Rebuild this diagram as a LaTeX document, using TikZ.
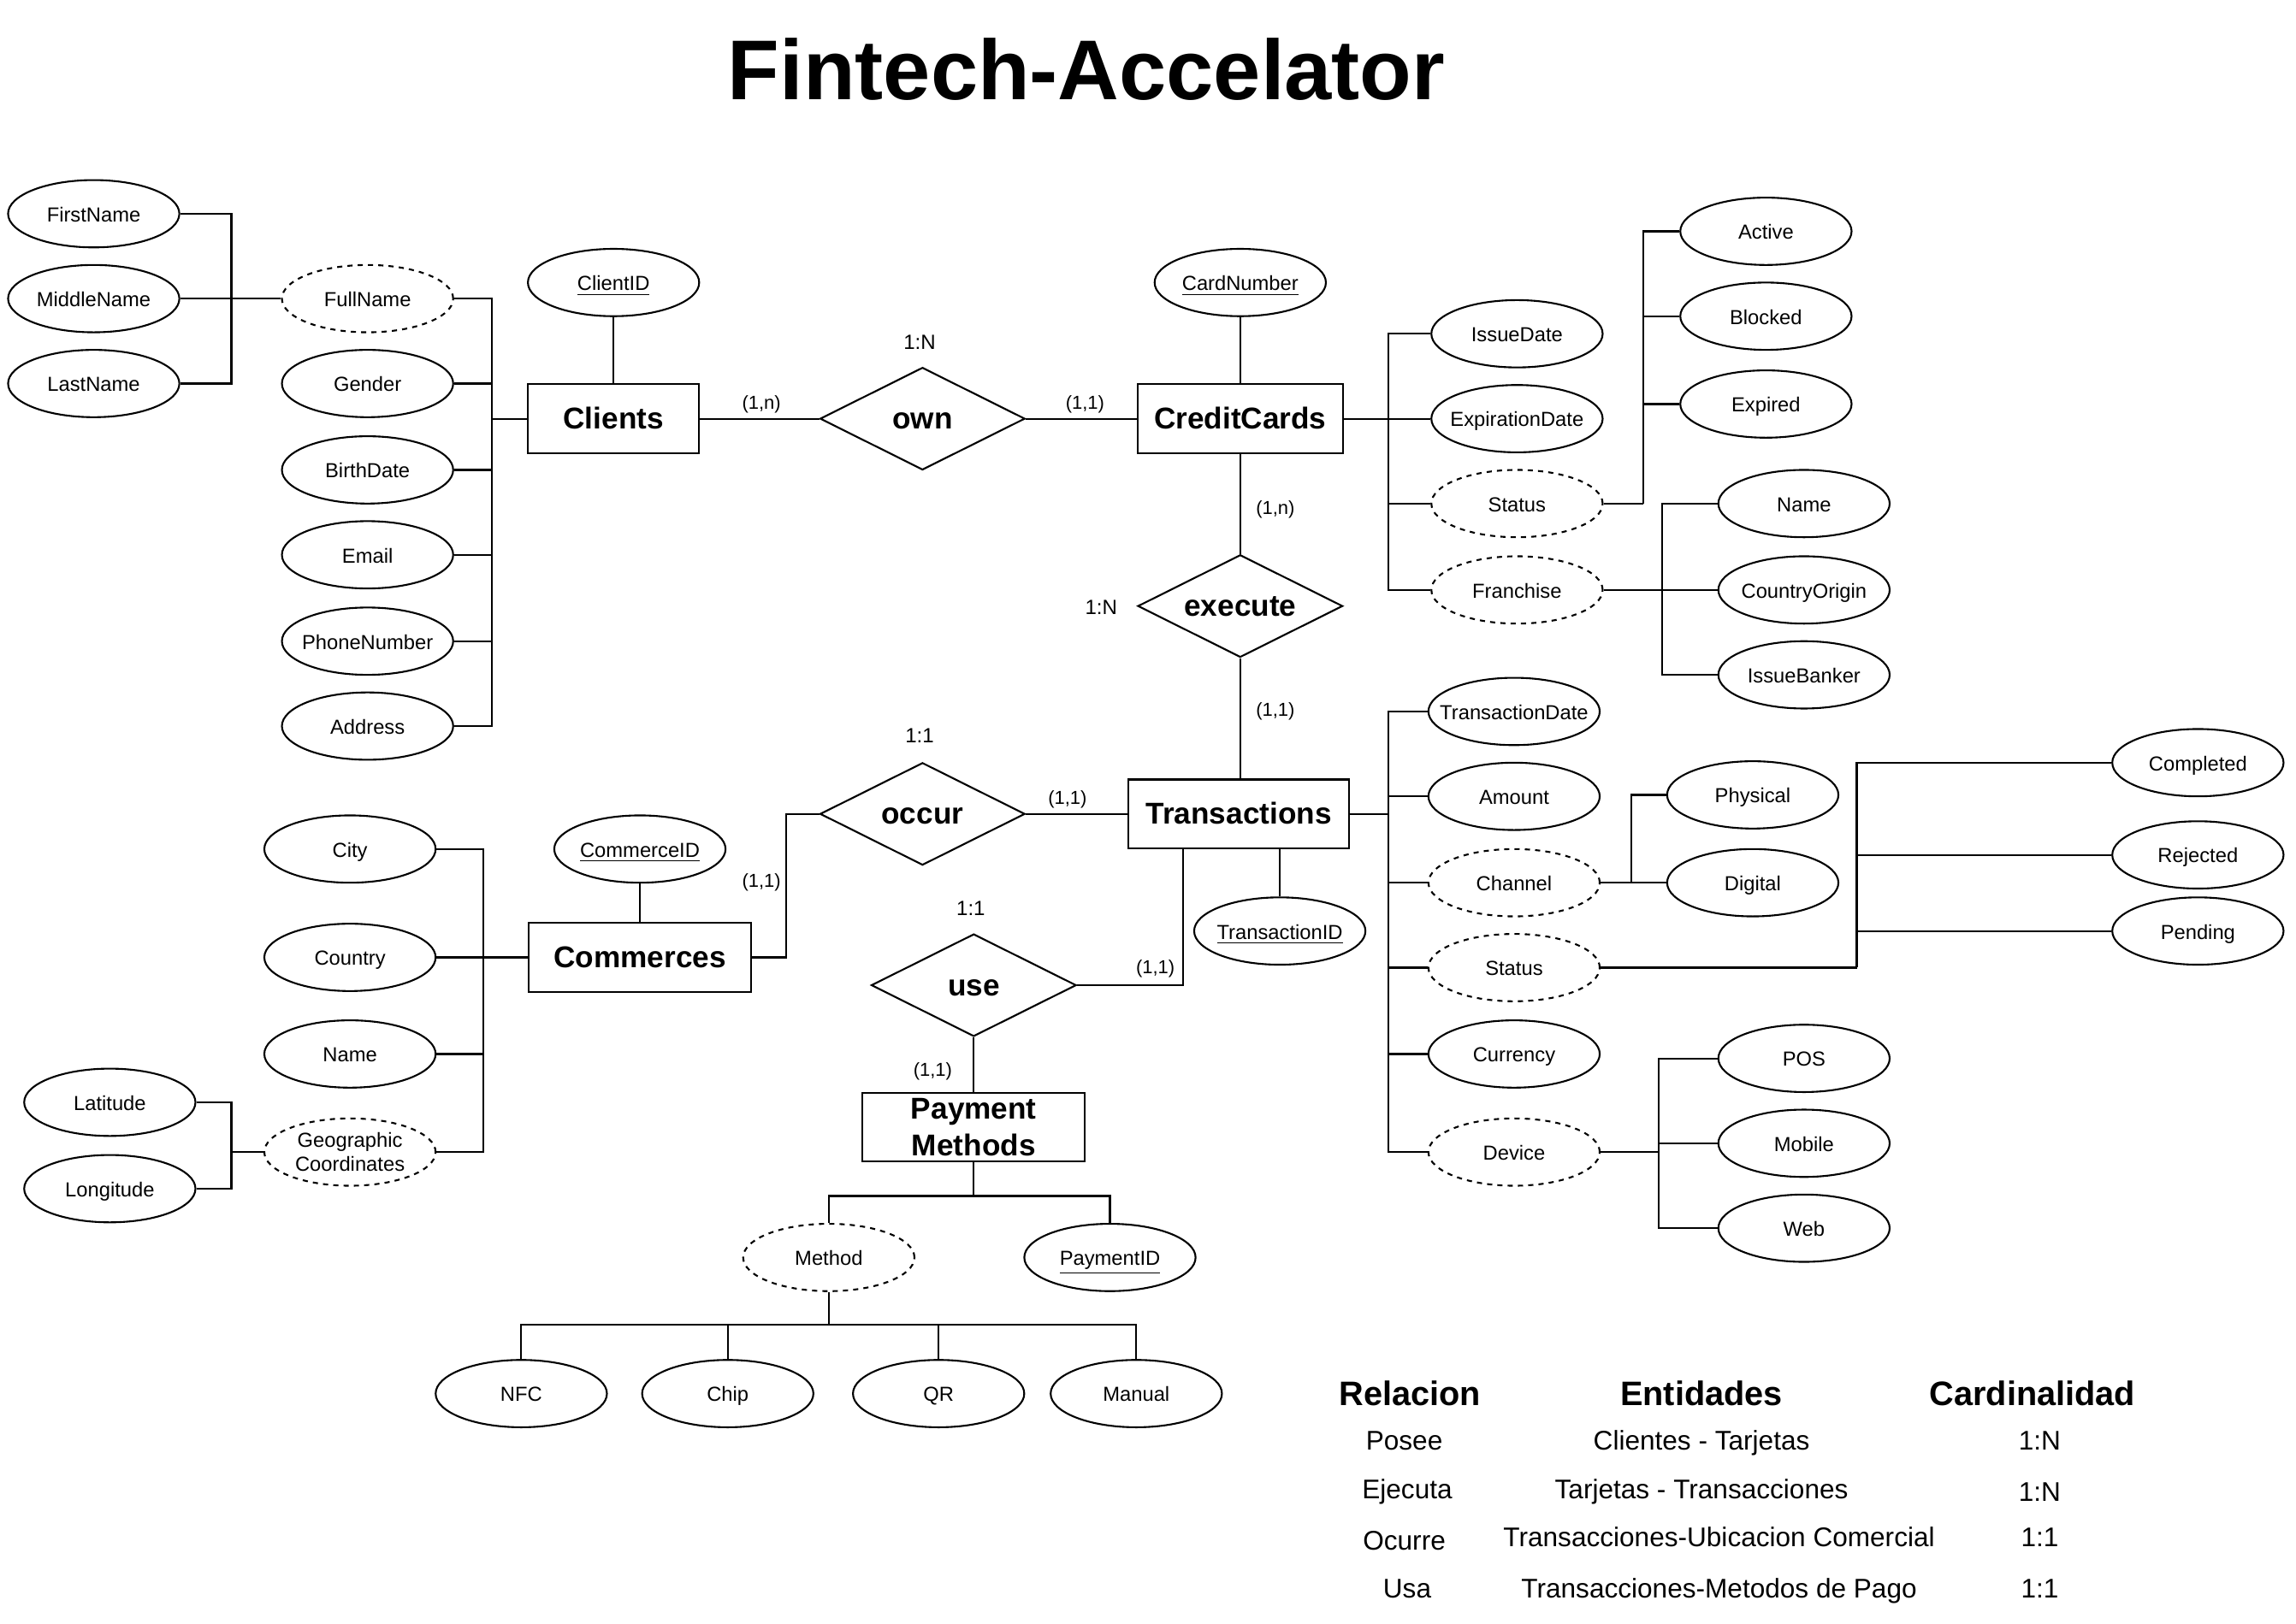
\documentclass[tikz,border=0pt]{standalone}
\usepackage{fontspec}
\setmainfont{Liberation Sans}
\usetikzlibrary{shapes.geometric}
\begin{document}
\begin{tikzpicture}[x=0.02cm,y=-0.02cm,line width=0.7pt,
  attr/.style={ellipse,draw,minimum width=2.34cm,minimum height=0.92cm,inner xsep=-8pt,inner ysep=0pt,text height=7.9pt,text depth=1.7pt,font=\fontsize{7.9}{9.5}\selectfont},
  mattr/.style={attr,dash pattern=on 2pt off 2pt},
  gattr/.style={ellipse,draw,dash pattern=on 2pt off 2pt,minimum width=2.34cm,minimum height=0.92cm,inner xsep=-8pt,inner ysep=-1.5pt,align=center,font=\fontsize{7.9}{9.5}\selectfont},
  entity/.style={rectangle,draw,minimum height=0.94cm,inner sep=0pt,text height=10.6pt,text depth=2.5pt,font=\fontsize{11.7}{14.2}\selectfont\bfseries},
  pmentity/.style={rectangle,draw,minimum height=0.94cm,inner sep=0pt,align=center,font=\fontsize{11.7}{14.2}\selectfont\bfseries},
  rel/.style={diamond,draw,minimum width=2.8cm,minimum height=1.4cm,inner sep=0pt,aspect=2,text height=10.6pt,text depth=2.5pt,font=\fontsize{11.7}{14}\selectfont\bfseries},
  card/.style={font=\fontsize{7.3}{9}\selectfont,inner sep=0pt,text height=7.5pt,text depth=1.5pt},
  ratio/.style={font=\fontsize{8}{9.5}\selectfont,inner sep=0pt,text height=8pt,text depth=1.7pt},
  thead/.style={font=\fontsize{13.2}{15}\selectfont\bfseries,inner sep=0pt,text height=12.9pt,text depth=2.8pt},
  tcell/.style={font=\fontsize{10.5}{12.5}\selectfont,inner sep=0pt,text height=9.8pt,text depth=2.2pt}]
\useasboundingbox (0,0) rectangle (1568,1109);
\node[font=\fontsize{33}{38}\selectfont\bfseries,inner sep=0pt,text height=29.4pt,text depth=6.9pt] (title) at (742,48) {Fintech-Accelator};

% Clients
\node[entity,minimum width=2.34cm] (Clients) at (419,286) {Clients};
\node[attr] (ClientID) at (419,193) {\underline{ClientID}};
\node[attr] (FirstName) at (64,146) {FirstName};
\node[attr] (MiddleName) at (64,204) {MiddleName};
\node[attr] (LastName) at (64,262) {LastName};
\node[mattr] (FullName) at (251,204) {FullName};
\node[attr] (Gender) at (251,262) {Gender};
\node[attr] (BirthDate) at (251,321) {BirthDate};
\node[attr] (Email) at (251,379) {Email};
\node[attr] (PhoneNumber) at (251,438) {PhoneNumber};
\node[attr] (Address) at (251,496) {Address};
\coordinate (b1) at (158,204);
\coordinate (b2) at (336,286);
\draw (ClientID) -- (Clients);
\draw (FirstName.east) -| (b1);
\draw (LastName.east) -| (b1);
\draw (MiddleName.east) -- (FullName.west);
\draw (FullName.east) -| (b2);
\draw (Address.east) -| (b2);
\foreach \n in {Gender,BirthDate,Email,PhoneNumber} \draw (\n.east) -- (\n.east -| b2);
\draw (b2) -- (Clients.west);

% own
\node[rel] (own) at (630,286) {own};
\node[ratio] (r1) at (628,233) {1:N};
\node[card] (c1) at (520,274) {(1,n)};
\node[card] (c2) at (741,274) {(1,1)};

% CreditCards
\node[entity,minimum width=2.8cm] (CreditCards) at (847,286) {CreditCards};
\node[attr] (CardNumber) at (847,193) {\underline{CardNumber}};
\draw (CardNumber) -- (CreditCards);
\draw (Clients.east) -- (own.west);
\draw (own.east) -- (CreditCards.west);
\node[attr] (IssueDate) at (1036,228) {IssueDate};
\node[attr] (ExpirationDate) at (1036,286) {ExpirationDate};
\node[mattr] (CStatus) at (1036,344) {Status};
\node[mattr] (Franchise) at (1036,403) {Franchise};
\coordinate (b3) at (948,286);
\draw (CreditCards.east) -- (ExpirationDate.west);
\draw (IssueDate.west) -| (b3);
\draw (Franchise.west) -| (b3);
\draw (CStatus.west) -- (CStatus.west -| b3);
\node[attr] (Active) at (1206,158) {Active};
\node[attr] (Blocked) at (1206,216) {Blocked};
\node[attr] (Expired) at (1206,276) {Expired};
\coordinate (b4) at (1122,344);
\draw (CStatus.east) -- (b4);
\draw (Active.west) -| (b4);
\draw (Blocked.west) -- (Blocked.west -| b4);
\draw (Expired.west) -- (Expired.west -| b4);
\node[attr] (FName) at (1232,344) {Name};
\node[attr] (CountryOrigin) at (1232,403) {CountryOrigin};
\node[attr] (IssueBanker) at (1232,461) {IssueBanker};
\coordinate (b5) at (1135,403);
\draw (Franchise.east) -- (CountryOrigin.west);
\draw (FName.west) -| (b5);
\draw (IssueBanker.west) -| (b5);

% execute
\node[rel] (execute) at (847,414) {execute};
\node[ratio] (r2) at (752,414) {1:N};
\node[card] (c3) at (871,346) {(1,n)};
\node[card] (c4) at (871,484) {(1,1)};

% Transactions
\node[entity,minimum width=3.02cm] (Transactions) at (846,556) {Transactions};
\draw (CreditCards) -- (execute);
\draw (execute.south) -- (execute.south |- Transactions.north);
\node[attr] (TransactionID) at (874,636) {\underline{TransactionID}};
\draw (TransactionID.north) -- (TransactionID.north |- Transactions.south);
\node[attr] (TransactionDate) at (1034,486) {TransactionDate};
\node[attr] (Amount) at (1034,544) {Amount};
\node[mattr] (Channel) at (1034,603) {Channel};
\node[mattr] (TStatus) at (1034,661) {Status};
\node[attr] (Currency) at (1034,720) {Currency};
\node[mattr] (Device) at (1034,787) {Device};
\coordinate (b6) at (948,556);
\draw (Transactions.east) -- (b6);
\draw (TransactionDate.west) -| (b6);
\draw (Device.west) -| (b6);
\foreach \n in {Amount,Channel,TStatus,Currency} \draw (\n.west) -- (\n.west -| b6);
\node[attr] (Physical) at (1197,543) {Physical};
\node[attr] (Digital) at (1197,603) {Digital};
\coordinate (b7) at (1114,603);
\draw (Channel.east) -- (Digital.west);
\draw (Physical.west) -| (b7);
\node[attr] (Completed) at (1501,521) {Completed};
\node[attr] (Rejected) at (1501,584) {Rejected};
\node[attr] (Pending) at (1501,636) {Pending};
\coordinate (b8) at (1268,661);
\draw (TStatus.east) -- (b8);
\draw (Completed.west) -| (b8);
\draw (Rejected.west) -- (Rejected.west -| b8);
\draw (Pending.west) -- (Pending.west -| b8);
\node[attr] (POS) at (1232,723) {POS};
\node[attr] (Mobile) at (1232,781) {Mobile};
\node[attr] (Web) at (1232,839) {Web};
\coordinate (b9) at (1133,787);
\draw (Device.east) -- (b9);
\draw (POS.west) -| (b9);
\draw (Web.west) -| (b9);
\draw (Mobile.west) -- (Mobile.west -| b9);

% occur / Commerces
\node[rel] (occur) at (630,556) {occur};
\node[ratio] (r3) at (628,502) {1:1};
\node[card] (c5) at (729,544) {(1,1)};
\node[card] (c6) at (520,601) {(1,1)};
\node[entity,minimum width=3.04cm] (Commerces) at (437,654) {Commerces};
\node[attr] (CommerceID) at (437,580) {\underline{CommerceID}};
\draw (CommerceID) -- (Commerces);
\draw (occur.east) -- (Transactions.west);
\coordinate (b12) at (537,556);
\draw (occur.west) -- (b12) |- (Commerces.east);
\node[attr] (City) at (239,580) {City};
\node[attr] (Country) at (239,654) {Country};
\node[attr] (CName) at (239,720) {Name};
\node[gattr] (Geo) at (239,787) {Geographic\\Coordinates};
\coordinate (b10) at (330,654);
\draw (b10) -- (Commerces.west);
\draw (City.east) -| (b10);
\draw (Geo.east) -| (b10);
\draw (Country.east) -- (b10);
\draw (CName.east) -- (CName.east -| b10);
\node[attr] (Latitude) at (75,753) {Latitude};
\node[attr] (Longitude) at (75,812) {Longitude};
\coordinate (b11) at (158,787);
\draw (b11) -- (Geo.west);
\draw (Latitude.east) -| (b11);
\draw (Longitude.east) -| (b11);

% use / Payment Methods
\node[rel] (use) at (665,673) {use};
\node[ratio] (r4) at (663,620) {1:1};
\node[card] (c7) at (789,660) {(1,1)};
\node[card] (c8) at (637,730) {(1,1)};
\node[pmentity,minimum width=3.04cm] (PM) at (665,770) {Payment\\Methods};
\coordinate (b13) at (808,673);
\draw (use.east) -- (b13) -- (b13 |- Transactions.south);
\draw (use.south) -- (PM.north);
\node[mattr] (Method) at (566,859) {Method};
\node[attr] (PaymentID) at (758,859) {\underline{PaymentID}};
\coordinate (b14) at (665,817);
\draw (PM.south) -- (b14);
\draw (Method.north) |- (b14) -| (PaymentID.north);
\node[attr] (NFC) at (356,952) {NFC};
\node[attr] (Chip) at (497,952) {Chip};
\node[attr] (QR) at (641,952) {QR};
\node[attr] (Manual) at (776,952) {Manual};
\coordinate (b15) at (566,905);
\draw (Method.south) -- (b15);
\draw (NFC.north) |- (b15) -| (Manual.north);
\draw (Chip.north) -- (Chip.north |- b15);
\draw (QR.north) -- (QR.north |- b15);

% Table
\node[thead] (h1) at (963,951) {Relacion};
\node[thead] (h2) at (1162,951) {Entidades};
\node[thead] (h3) at (1388,951) {Cardinalidad};
\node[tcell] (t11) at (959,984) {Posee};
\node[tcell] (t12) at (1162,984) {Clientes - Tarjetas};
\node[tcell] (t13) at (1393,984) {1:N};
\node[tcell] (t21) at (961,1017) {Ejecuta};
\node[tcell] (t22) at (1162,1017) {Tarjetas - Transacciones};
\node[tcell] (t23) at (1393,1019) {1:N};
\node[tcell] (t31) at (959,1052) {Ocurre};
\node[tcell] (t32) at (1174,1050) {Transacciones-Ubicacion Comercial};
\node[tcell] (t33) at (1393,1050) {1:1};
\node[tcell] (t41) at (961,1085) {Usa};
\node[tcell] (t42) at (1174,1085) {Transacciones-Metodos de Pago};
\node[tcell] (t43) at (1393,1085) {1:1};
\end{tikzpicture}
\end{document}
